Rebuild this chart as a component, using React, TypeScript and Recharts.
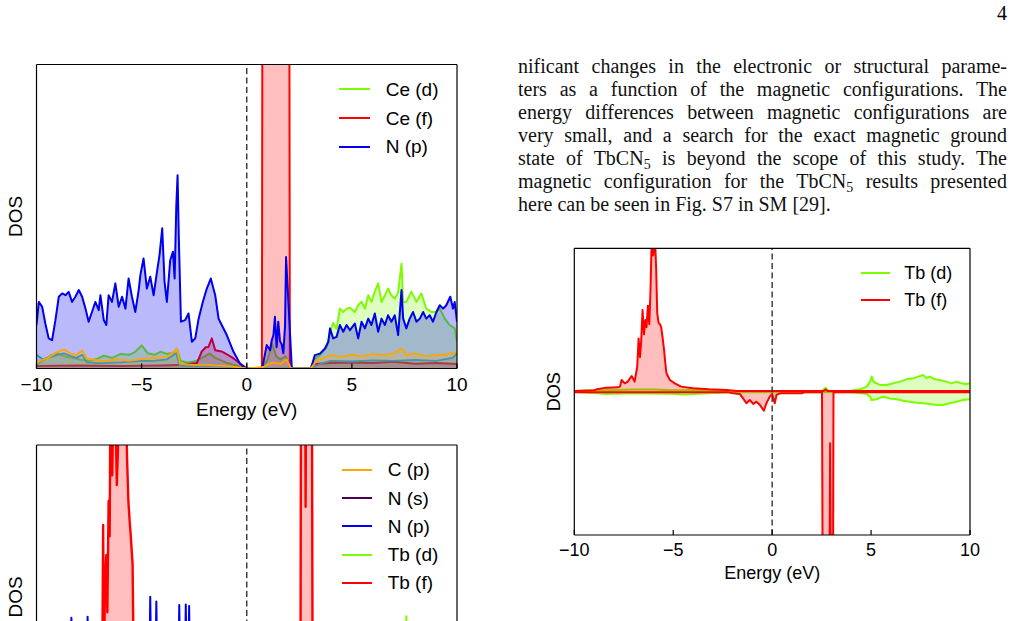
import React from 'react';
import { ComposedChart, Area, XAxis, YAxis, ReferenceLine, Legend } from 'recharts';

const SANS = '"Liberation Sans", Arial, Helvetica, sans-serif';
const SERIF = '"Liberation Serif", "Times New Roman", serif';

const BLUE = '#0000ee';
const GREEN = '#7cfc00';
const RED = '#ff0000';
const ORANGE = '#ffa500';
const STEEL = '#1f8fd0';
const PURPLE = '#4b0055';

const xTicks = [-10, -5, 0, 5, 10];

// ---------------- Chart 1 (CeCN5) ----------------
const c1NpE = [-10, -9.89, -9.73, -9.58, -9.42, -9.26, -9.10, -8.94, -8.78, -8.62, -8.47, -8.31, -8.15, -7.99, -7.83, -7.67, -7.52, -7.36, -7.20, -7.04, -6.96, -6.80, -6.68, -6.57, -6.41, -6.25, -6.09, -5.93, -5.77, -5.62, -5.46, -5.30, -5.14, -5.06, -4.91, -4.75, -4.59, -4.43, -4.27, -4.15, -4.02, -3.91, -3.80, -3.64, -3.51, -3.43, -3.35, -3.29, -3.23, -3.13, -2.93, -2.77, -2.61, -2.45, -2.29, -2.09, -1.90, -1.71, -1.50, -1.34, -1.19, -0.95, -0.63, -0.32, 0, 0.71, 0.79, 0.95, 1.11, 1.19, 1.27, 1.34, 1.42, 1.50, 1.58, 1.66, 1.74, 1.82, 1.87, 1.95, 2.03, 2.14, 2.2, 3.05, 3.24, 3.48, 3.72, 3.88, 3.96, 4.11, 4.27, 4.43, 4.59, 4.75, 4.91, 5.14, 5.30, 5.46, 5.62, 5.78, 5.93, 6.09, 6.25, 6.41, 6.57, 6.72, 6.88, 7.04, 7.20, 7.36, 7.44, 7.59, 7.75, 7.91, 8.07, 8.23, 8.39, 8.54, 8.70, 8.86, 9.02, 9.18, 9.34, 9.49, 9.68, 9.81, 9.89, 10];
const c1NpV = [14.3, 21.9, 20.3, 14.8, 9.9, 9.3, 15.9, 23.6, 24.7, 24.1, 25.2, 21.9, 23.6, 25.8, 23.6, 19.7, 15.4, 18.6, 21.9, 19.2, 24.1, 15.9, 14.3, 24.1, 21.9, 28.0, 20.3, 23.6, 19.7, 29.6, 23.6, 18.6, 25.8, 30.7, 36.2, 26.3, 30.2, 24.1, 31.8, 37.3, 46.1, 28.5, 21.9, 35.6, 38.4, 29.6, 53.7, 63.6, 42.8, 15.4, 15.9, 18.1, 8.8, 9.9, 16.4, 21.9, 26.3, 29.6, 24.1, 16.4, 14.3, 11.0, 5.5, 1.6, 0, 0, 2, 7.7, 6, 9.3, 11, 17, 7, 15.4, 9, 8, 5, 14, 36.7, 26, 15.4, 0.5, 0, 0, 4.4, 4.9, 6.6, 8.8, 13.2, 9.9, 10.4, 14.3, 12.1, 14.3, 12.6, 14.8, 9.9, 15.4, 13.2, 16.4, 14.3, 18.1, 12.1, 16.4, 14.3, 17.5, 15.4, 17.5, 11, 25.8, 16.4, 13.2, 16.4, 18.6, 15.4, 16.4, 18.6, 16.4, 17.5, 15.4, 18.6, 20.8, 19.7, 20.8, 23.6, 19.7, 21.9, 15.4];

const c1CedE = [-10, -9.6, -9.3, -9.0, -8.7, -8.3, -7.9, -7.5, -7.1, -6.8, -6.4, -6.0, -5.6, -5.3, -5.0, -4.7, -4.4, -4.1, -3.8, -3.5, -3.32, -3.15, -2.8, -2.4, -2.0, -1.77, -1.5, -1.0, -0.5, 0, 0.7, 0.8, 1.0, 1.2, 1.4, 1.6, 1.85, 2.1, 2.2, 3.05, 3.2, 3.5, 3.8, 3.96, 4.11, 4.27, 4.43, 4.59, 4.75, 4.91, 5.14, 5.30, 5.46, 5.62, 5.78, 5.93, 6.09, 6.25, 6.41, 6.57, 6.72, 6.88, 7.04, 7.20, 7.36, 7.44, 7.59, 7.83, 8.07, 8.30, 8.54, 8.78, 9.02, 9.18, 9.42, 9.65, 9.89, 10];
const c1CedV = [1.3, 3.0, 4.4, 5.0, 4.0, 3.5, 2.9, 2.5, 3.2, 4.2, 3.5, 4.8, 4.5, 5.5, 7.6, 5.0, 4.5, 5.5, 4.8, 5.2, 6.5, 2.5, 2.0, 2.5, 4.0, 4.9, 3.5, 2.0, 1.0, 0, 0, 1, 3, 8.2, 4, 3, 4, 0.5, 0, 0, 3, 4.5, 7, 12, 15, 13, 19.7, 18.6, 19.7, 20, 18.6, 20.8, 22, 19.7, 24.1, 21.9, 25.3, 28, 21.9, 24, 26.3, 24, 23, 25, 34.5, 21.9, 21.9, 25.3, 21.9, 24.7, 19.7, 18.6, 18.6, 19.7, 16.4, 14.3, 13.2, 8.8];

const c1CefE = [-10, -8, -6, -4, -3, -2.37, -2.14, -1.95, -1.82, -1.66, -1.5, -1.2, -0.9, -0.64, -0.3, 0, 0.72, 0.78, 1.99, 2.05, 3.05, 3.2, 4, 5, 6, 7, 8, 9, 10];
const c1CefV = [0.8, 1.0, 0.8, 1.0, 1.2, 1.8, 5.6, 7.0, 7.1, 9.9, 6.0, 5.6, 4.5, 3.4, 1.5, 0, 0, 300, 300, 0, 0, 1.5, 1.8, 2.0, 1.8, 2.2, 1.6, 1.8, 1.5];

const c1OrE = [-10, -9.49, -9.02, -8.70, -8.4, -8.1, -7.83, -7.6, -7.2, -6.7, -6.2, -5.6, -5.0, -4.4, -3.8, -3.48, -3.32, -3.17, -2.53, -1.8, -0.9, 0, 0.8, 1.2, 1.6, 1.9, 2.1, 3.05, 3.3, 4, 4.5, 5, 5.5, 6, 6.5, 7, 7.36, 7.6, 8, 8.5, 9, 9.5, 10];
const c1OrV = [2.2, 3.3, 5.5, 6.3, 5.0, 4.5, 5.9, 3.3, 2.8, 2.5, 3.0, 2.5, 3.2, 3.5, 3.8, 5.5, 6.5, 1.5, 1.2, 1.2, 0.8, 0, 0.5, 2, 1.5, 3, 0, 0, 2.5, 4.4, 3.8, 4.6, 4.0, 4.8, 4.4, 5.0, 6.6, 4.4, 5.0, 4.0, 4.4, 4.6, 5.5];

const c1StE = [-10, -9.7, -9.3, -9.0, -8.7, -8.4, -8.1, -7.83, -7.6, -7, -6, -5, -4.4, -3.8, -3.35, -3.2, -2.5, -1.5, 0, 3.05, 3.5, 4, 5, 6, 7, 8, 9, 9.8, 10];
const c1StV = [4.5, 3.0, 3.8, 4.5, 5.0, 4.2, 3.5, 4.5, 2.0, 1.8, 2.0, 2.5, 2.5, 3.0, 5.0, 1.0, 0.8, 1.0, 0, 0, 1.5, 2.5, 2.3, 2.7, 2.5, 2.8, 2.5, 3.5, 5];

const c1Legend = ['Ce (d)', 'Ce (f)', 'N (p)'];
const c1LegendColors = [GREEN, RED, BLUE];

// ---------------- Chart 2 (TbCN5 spin polarised) ----------------
const c2FupE = [-10, -9.0, -8.87, -8.37, -7.8, -7.69, -7.61, -7.45, -7.3, -7.10, -6.95, -6.82, -6.75, -6.68, -6.62, -6.55, -6.48, -6.41, -6.35, -6.28, -6.21, -6.15, -6.09, -6.01, -5.93, -5.86, -5.81, -5.74, -5.67, -5.61, -5.54, -5.47, -5.40, -5.34, -5.17, -4.92, -4.6, -3.99, -3.2, -2.31, -1.8, 2.6, 2.7, 2.8, 10];
const c2FupV = [0.5, 1.0, 1.6, 2.8, 3.0, 3.5, 8.1, 5.8, 7.0, 10.9, 7.0, 17.4, 37, 24, 35, 57, 40, 50, 45, 60, 47, 70, 105, 95, 110, 85, 55, 48, 47, 45, 38, 30, 20, 12.8, 8.1, 5.8, 3.5, 2.3, 1.6, 1.2, 0.5, 0.5, 1.5, 0.5, 0.5];

const c2FdnE = [-10, -2.2, -1.98, -1.64, -1.47, -1.30, -1.13, -0.96, -0.79, -0.62, -0.42, -0.29, -0.12, 0, 0.13, 0.22, 0.4, 1.5, 1.6, 2.5, 2.52, 2.55, 2.78, 2.90, 2.93, 2.96, 3.08, 3.10, 10];
const c2FdnV = [-0.5, -0.5, -1.2, -1.6, -4.7, -8.1, -5.8, -8.6, -7.0, -9.3, -13.3, -8.1, -3.5, -1.6, -8.1, -2.3, -1.2, -1.2, -0.5, -0.5, -0.5, -120, -120, -120, -36, -120, -120, -0.5, -0.5];

const c2DupE = [-10, -9, -8, -7, -6, -5, -4, -3, -2, -1.5, 0, 2.5, 2.7, 2.85, 3.94, 4.45, 4.78, 4.95, 5.03, 5.12, 5.28, 5.45, 5.78, 6.12, 6.46, 6.79, 7.13, 7.38, 7.63, 7.80, 7.97, 8.22, 8.47, 8.81, 9.06, 9.31, 9.56, 9.81, 10];
const c2DupV = [0.3, 1.0, 1.2, 1.5, 1.5, 1.0, 1.2, 0.8, 0.5, 0.3, 0.2, 0.2, 2.8, 0.5, 0.7, 1.6, 3.5, 7, 10.5, 7.0, 5.8, 4.7, 4.7, 5.8, 7.0, 8.6, 9.3, 10.5, 11.6, 9.5, 10.5, 8.6, 8.1, 7.0, 5.8, 7.0, 5.8, 5.3, 5.8];

const c2DdnE = [-10, -9, -8.4, -7, -5, -4.5, -3, -2, 0, 3.94, 4.78, 4.95, 5.03, 5.28, 5.62, 5.95, 6.3, 6.63, 6.96, 7.3, 7.63, 7.97, 8.3, 8.63, 8.97, 9.31, 9.64, 10];
const c2DdnV = [-0.3, -1.0, -1.6, -1.2, -1.5, -2, -1, -0.5, -0.5, -0.3, -1.6, -3.5, -5.8, -5.3, -3.5, -4.7, -5.3, -6.3, -7.0, -7.7, -8.1, -8.6, -9.3, -9.3, -8.1, -7.0, -5.8, -5.3];

const c2Legend = ['Tb (d)', 'Tb (f)'];
const c2LegendColors = [GREEN, RED];

// ---------------- Chart 3 (TbCN5 partial DOS) ----------------
const c3TbfE = [-10, -7.5, -7.0, -6.9, -6.86, -6.83, -6.79, -6.74, -6.68, -6.63, -6.57, -6.52, -6.48, -6.40, -6.32, -6.24, -6.18, -6.12, -6.05, -5.95, -5.85, -5.74, -5.69, -5.63, -5.57, -5.52, -5.47, -5.43, -5.38, -5.30, -5.1, -4.5, -3, -1, 0, 2.55, 2.58, 2.70, 2.78, 2.80, 2.82, 3.10, 3.14, 5, 7, 10];
const c3TbfV = [0.5, 2, 5, 10, 40, 73.7, 30, 55, 63.8, 45, 81.6, 70, 120, 90, 120, 110, 86.8, 100, 120, 115, 120, 110, 95, 81.6, 75, 70.6, 65, 60.8, 30, 15, 6, 3, 2, 1, 0.5, 0.5, 120, 120, 120, 79.7, 120, 120, 0.5, 1, 1.5, 1];

const c3NpE = [-10, -9, -8.40, -8.34, -8.29, -7.62, -7.57, -7.52, -6, -4.64, -4.59, -4.54, -4.35, -4.30, -4.25, -3.26, -3.21, -3.16, -2.95, -2.90, -2.85, -2.79, -2.74, -2.69, -2, -1, 0, 3.2, 4, 6, 8, 10];
const c3NpV = [10, 15, 18, 43.2, 20, 20, 43.5, 20, 15, 22, 50.1, 25, 22, 48.5, 22, 22, 47.4, 22, 22, 47.5, 25, 25, 47, 20, 15, 8, 0, 0, 8, 12, 14, 12];

const c3TbdE = [-10, -8, -6, -4, -2, 0, 3, 4, 5, 6, 7, 7.55, 7.59, 7.63, 8, 9, 10];
const c3TbdV = [2, 3, 3, 3, 2, 0.5, 0.5, 4, 10, 12, 14, 15, 43.7, 15, 13, 11, 10];

const c3CpE = [-10, -8, -6, -4, -2, 0, 3, 5, 7, 10];
const c3CpV = [3, 5, 4, 6, 3, 0, 0, 5, 6, 5];

const c3NsE = [-10, -8, -6, -4, -2, 0, 3, 5, 7, 10];
const c3NsV = [2, 2, 1.5, 1.5, 1, 0, 0, 1, 1.5, 1];

const c3Legend = ['C (p)', 'N (s)', 'N (p)', 'Tb (d)', 'Tb (f)'];
const c3LegendColors = [ORANGE, PURPLE, BLUE, GREEN, RED];

// ---------------- Text ----------------
const paraLines = [
  'nificant changes in the electronic or structural parame-',
  'ters as a function of the magnetic configurations.  The',
  'energy differences between magnetic configurations are',
  'very small, and a search for the exact magnetic ground',
  'state of TbCN_5 is beyond the scope of this study.  The',
  'magnetic configuration for the TbCN_5 results presented',
  'here can be seen in Fig. S7 in SM [29].',
];
const pageNumber = '4';

const pts = (es: number[], vs: number[]) => es.map((e, i) => ({ e, v: vs[i] }));

const fmt = (v: number) => (v < 0 ? '\u2212' + Math.abs(v) : String(v));

const makeTick = (fs: number, dy: number, showText: boolean) => (props: any) => {
  const { x, y, payload } = props;
  return (
    <g>
      <line x1={x} x2={x} y1={y} y2={y - 5} stroke="#000" strokeWidth={1.2} />
      {showText ? (
        <text x={x} y={y + dy} textAnchor="middle" fontSize={fs} fontFamily={SANS} fill="#000">
          {fmt(payload.value)}
        </text>
      ) : null}
    </g>
  );
};

const xTitle = (fs: number, dy: number) => ({
  content: (p: any) => {
    const vb = p.viewBox || {};
    return (
      <text x={vb.x + vb.width / 2} y={vb.y + dy} textAnchor="middle" fontSize={fs} fontFamily={SANS} fill="#000">
        Energy (eV)
      </text>
    );
  },
});

const yTitle = (fs: number, off: number) => ({
  content: (p: any) => {
    const vb = p.viewBox || {};
    const cx = vb.x + vb.width - off;
    const cy = vb.y + vb.height / 2;
    return (
      <text x={cx} y={cy} transform={`rotate(-90 ${cx} ${cy})`} textAnchor="middle" fontSize={fs} fontFamily={SANS} fill="#000">
        DOS
      </text>
    );
  },
});

const legendContent = (labels: string[], colors: string[], fs: number, rowH: number, lineW: number, gap: number) => () => (
  <div style={{ fontFamily: SANS, fontSize: fs, color: '#000' }}>
    {labels.map((l, i) => (
      <div key={l} style={{ height: rowH, display: 'flex', alignItems: 'center' }}>
        <div style={{ width: lineW, height: 2, background: colors[i], marginRight: gap, flex: 'none' }} />
        <span style={{ lineHeight: 1, whiteSpace: 'nowrap' }}>{l}</span>
      </div>
    ))}
  </div>
);

const area = (key: string, data: any[], color: string, fo: number, sw = 2) => (
  <Area
    key={key}
    name={key}
    data={data}
    dataKey="v"
    xAxisId="b"
    yAxisId="l"
    type="linear"
    stroke={color}
    strokeWidth={sw}
    fill={color}
    fillOpacity={fo}
    isAnimationActive={false}
    dot={false}
    activeDot={false}
    strokeLinejoin="round"
    legendType="none"
  />
);

const frameAxes = (yDomain: number[], fs: number, tickDy: number, titleDy: number, yOff: number, showX: boolean) => [
  <XAxis
    key="xb"
    xAxisId="b"
    type="number"
    dataKey="e"
    domain={[-10, 10]}
    ticks={xTicks}
    interval={0}
    allowDataOverflow
    tickLine={false}
    tickSize={0}
    tickMargin={0}
    height={40}
    axisLine={{ stroke: '#000', strokeWidth: 1.2 }}
    tick={makeTick(fs, tickDy, showX)}
    label={showX ? xTitle(fs, titleDy) : undefined}
  />,
  <XAxis
    key="xt"
    xAxisId="t"
    orientation="top"
    type="number"
    dataKey="e"
    domain={[-10, 10]}
    ticks={xTicks}
    height={1}
    tick={false}
    tickLine={false}
    axisLine={{ stroke: '#000', strokeWidth: 1.2 }}
  />,
  <YAxis
    key="yl"
    yAxisId="l"
    type="number"
    domain={yDomain}
    allowDataOverflow
    width={1}
    tick={false}
    tickLine={false}
    axisLine={{ stroke: '#000', strokeWidth: 1.2 }}
    label={yTitle(fs, yOff)}
  />,
  <YAxis
    key="yr"
    yAxisId="r"
    orientation="right"
    type="number"
    domain={yDomain}
    width={1}
    tick={false}
    tickLine={false}
    axisLine={{ stroke: '#000', strokeWidth: 1.2 }}
  />,
];

const zeroLine = <ReferenceLine x={0} xAxisId="b" yAxisId="l" stroke="#333" strokeWidth={1.4} strokeDasharray="6 3.5" ifOverflow="hidden" />;

const renderLine = (line: string, key: number, last: boolean) => {
  const parts = line.split('_5');
  const children: any[] = [];
  parts.forEach((p, i) => {
    children.push(<React.Fragment key={'t' + i}>{p}</React.Fragment>);
    if (i < parts.length - 1)
      children.push(
        <span key={'s' + i} style={{ fontSize: 14, position: 'relative', top: 4, lineHeight: 0 }}>
          5
        </span>
      );
  });
  return (
    <div key={key} style={{ height: 23.1, textAlign: last ? 'left' : 'justify', textAlignLast: last ? 'left' : 'justify' } as any}>
      {children}
    </div>
  );
};

export default function App() {
  return (
    <div style={{ position: 'fixed', left: 0, top: 0, width: 1014, height: 621, overflow: 'hidden', background: '#fff' }}>
      <div style={{ position: 'absolute', right: 7, top: 1.5, fontFamily: SERIF, fontSize: 20, lineHeight: '23.1px' }}>{pageNumber}</div>

      <div style={{ position: 'absolute', left: 518, top: 54.7, width: 489, fontFamily: SERIF, fontSize: 20, lineHeight: '23.1px', color: '#111' }}>
        {paraLines.map((l, i) => renderLine(l, i, i === paraLines.length - 1))}
      </div>

      {/* Chart 1 */}
      <div style={{ position: 'absolute', left: 0, top: 0 }}>
        <ComposedChart width={480} height={430} margin={{ top: 63.5, right: 22, bottom: 21.5, left: 35.5 }}>
          {frameAxes([0, 100], 19, 22, 47, 15, true)}
          {area('ced', pts(c1CedE, c1CedV), GREEN, 0.25)}
          {area('cef', pts(c1CefE, c1CefV), RED, 0.25)}
          {area('np', pts(c1NpE, c1NpV), BLUE, 0.27)}
          {area('st', pts(c1StE, c1StV), STEEL, 0.2, 1.8)}
          {area('or', pts(c1OrE, c1OrV), ORANGE, 0.2, 1.8)}
          {zeroLine}
          <Legend
            layout="vertical"
            align="center"
            verticalAlign="middle"
            wrapperStyle={{ left: 339, top: 75, width: 120 }}
            content={legendContent(c1Legend, c1LegendColors, 19, 28.7, 31, 15.7)}
          />
        </ComposedChart>
      </div>

      {/* Chart 3 (bottom-left, partially visible) */}
      <div style={{ position: 'absolute', left: 0, top: 420 }}>
        <ComposedChart width={480} height={420} margin={{ top: 24, right: 22, bottom: 51, left: 35.5 }}>
          {frameAxes([0, 100], 19, 22, 47, 15, false)}
          {area('tbd3', pts(c3TbdE, c3TbdV), GREEN, 0.25)}
          {area('ns3', pts(c3NsE, c3NsV), PURPLE, 0.2)}
          {area('cp3', pts(c3CpE, c3CpV), ORANGE, 0.2)}
          {area('np3', pts(c3NpE, c3NpV), BLUE, 0.27)}
          {area('tbf3', pts(c3TbfE, c3TbfV), RED, 0.25, 2.4)}
          {zeroLine}
          <Legend
            layout="vertical"
            align="center"
            verticalAlign="middle"
            wrapperStyle={{ left: 341.7, top: 35.9, width: 120 }}
            content={legendContent(c3Legend, c3LegendColors, 19, 28.2, 30.6, 15.4)}
          />
        </ComposedChart>
      </div>

      {/* Chart 2 (right) */}
      <div style={{ position: 'absolute', left: 540, top: 220 }}>
        <ComposedChart width={474} height={380} margin={{ top: 27.3, right: 43, bottom: 25, left: 33.3 }}>
          {frameAxes([-100, 100], 18, 20.7, 44, 14.5, true)}
          {area('dup', pts(c2DupE, c2DupV), GREEN, 0.25)}
          {area('ddn', pts(c2DdnE, c2DdnV), GREEN, 0.25)}
          {area('fup', pts(c2FupE, c2FupV), RED, 0.25)}
          {area('fdn', pts(c2FdnE, c2FdnV), RED, 0.25)}
          {zeroLine}
          <Legend
            layout="vertical"
            align="center"
            verticalAlign="middle"
            wrapperStyle={{ left: 320.7, top: 40, width: 110 }}
            content={legendContent(c2Legend, c2LegendColors, 18, 26.7, 29.3, 14.3)}
          />
        </ComposedChart>
      </div>
    </div>
  );
}
